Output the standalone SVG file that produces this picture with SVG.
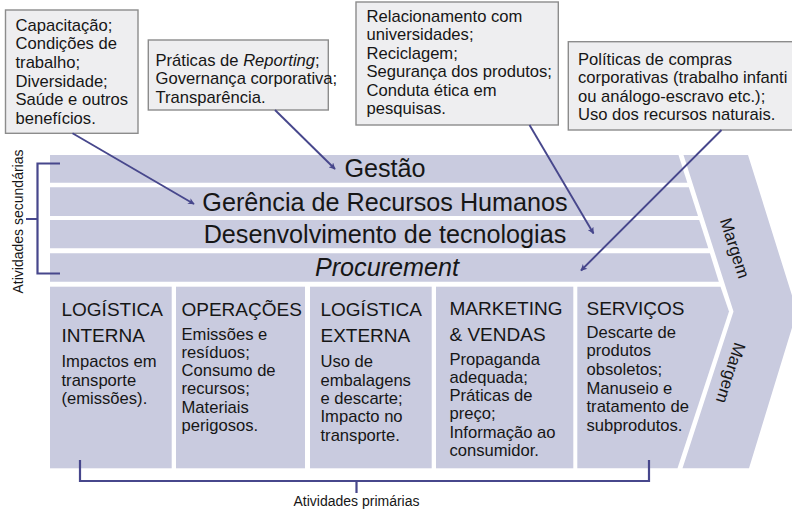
<svg xmlns="http://www.w3.org/2000/svg" width="792" height="511" viewBox="0 0 792 511">
  <defs>
    <style>
      .bar { fill: #c9cbdf; }
      .box { fill: #eeeef0; stroke: #8c8c8c; stroke-width: 1.4; }
      .t { font-family: "Liberation Sans", Arial, sans-serif; fill: #161616; }
      .co { font-size: 16.6px; }
      .bt { font-size: 25.2px; text-anchor: middle; }
      .hd { font-size: 19px; }
      .bd { font-size: 16.6px; }
      .sm { font-size: 14px; }
      .mg { font-size: 17px; text-anchor: middle; }
      .conn { stroke: #47478c; stroke-width: 1.9; fill: none; }
      .brk { stroke: #47478c; stroke-width: 2.2; fill: none; }
    </style>
    <marker id="arr" viewBox="0 0 10 10" refX="9" refY="5" markerWidth="8" markerHeight="6.5" markerUnits="userSpaceOnUse" orient="auto">
      <path d="M0,0 L10,5 L0,10 L2.5,5 Z" fill="#47478c"/>
    </marker>
  </defs>

  <g id="margem">
    <polygon class="bar" points="683.5,155 748,155 797,311.5 749,468.3 682.5,468.3 733.5,311.5"/>
    <text class="t mg" transform="translate(735,248) rotate(72.3)" y="6">Margem</text>
    <text class="t mg" transform="translate(731,373) rotate(107.7)" y="6">Margem</text>
  </g>

  <g id="gestao">
    <polygon class="bar" points="50,155 678.5,155 687.3,182.7 50,182.7"/>
    <text class="t bt" x="385" y="177">Gestão</text>
  </g>
  <g id="rh">
    <polygon class="bar" points="50,187.3 688.8,187.3 698,216 50,216"/>
    <text class="t bt" x="385" y="210.5">Gerência de Recursos Humanos</text>
  </g>
  <g id="tecnologia">
    <polygon class="bar" points="50,220 699.2,220 708.3,248.3 50,248.3"/>
    <text class="t bt" x="385" y="242.5">Desenvolvimento de tecnologias</text>
  </g>
  <g id="procurement">
    <polygon class="bar" points="50,253.3 709.9,253.3 718.8,281.7 50,281.7"/>
    <text class="t bt" x="387" y="275.5" font-style="italic">Procurement</text>
  </g>

  <g id="logistica-interna">
    <rect class="bar" x="50" y="286.7" width="121.7" height="181.6"/>
    <text class="t hd"><tspan x="61.5" y="315.5">LOGÍSTICA</tspan><tspan x="61.5" y="342">INTERNA</tspan></text>
    <text class="t bd"><tspan x="61.5" y="367.3">Impactos em</tspan><tspan x="61.5" y="385.6">transporte</tspan><tspan x="61.5" y="403.9">(emissões).</tspan></text>
  </g>
  <g id="operacoes">
    <rect class="bar" x="176" y="286.7" width="129" height="181.6"/>
    <text class="t hd" x="181.5" y="315.5">OPERAÇÕES</text>
    <text class="t bd"><tspan x="181.5" y="339.5">Emissões e</tspan><tspan x="181.5" y="357.8">resíduos;</tspan><tspan x="181.5" y="376.1">Consumo de</tspan><tspan x="181.5" y="394.4">recursos;</tspan><tspan x="181.5" y="412.7">Materiais</tspan><tspan x="181.5" y="431">perigosos.</tspan></text>
  </g>
  <g id="logistica-externa">
    <rect class="bar" x="310" y="286.7" width="121.7" height="181.6"/>
    <text class="t hd"><tspan x="320.5" y="315.5">LOGÍSTICA</tspan><tspan x="320.5" y="342">EXTERNA</tspan></text>
    <text class="t bd"><tspan x="320.5" y="367.3">Uso de</tspan><tspan x="320.5" y="385.6">embalagens</tspan><tspan x="320.5" y="403.9">e descarte;</tspan><tspan x="320.5" y="422.2">Impacto no</tspan><tspan x="320.5" y="440.5">transporte.</tspan></text>
  </g>
  <g id="marketing">
    <rect class="bar" x="436" y="286.7" width="137.3" height="181.6"/>
    <text class="t hd"><tspan x="449.5" y="314.5">MARKETING</tspan><tspan x="449.5" y="341">&amp; VENDAS</tspan></text>
    <text class="t bd"><tspan x="449.5" y="364.5">Propaganda</tspan><tspan x="449.5" y="382.8">adequada;</tspan><tspan x="449.5" y="401.1">Práticas de</tspan><tspan x="449.5" y="419.4">preço;</tspan><tspan x="449.5" y="437.7">Informação ao</tspan><tspan x="449.5" y="456">consumidor.</tspan></text>
  </g>
  <g id="servicos">
    <polygon class="bar" points="577.3,286.7 720.5,286.7 729,311.5 677.5,468.3 577.3,468.3"/>
    <text class="t hd" x="586.5" y="314.5">SERVIÇOS</text>
    <text class="t bd"><tspan x="586.5" y="337.5">Descarte de</tspan><tspan x="586.5" y="356.2">produtos</tspan><tspan x="586.5" y="374.9">obsoletos;</tspan><tspan x="586.5" y="393.6">Manuseio e</tspan><tspan x="586.5" y="412.3">tratamento de</tspan><tspan x="586.5" y="431">subprodutos.</tspan></text>
  </g>

  <g id="callout-rh">
    <rect class="box" x="5.5" y="10" width="132.5" height="123.3"/>
    <text class="t co"><tspan x="15.5" y="30.5">Capacitação;</tspan><tspan x="15.5" y="49.2">Condições de</tspan><tspan x="15.5" y="67.9">trabalho;</tspan><tspan x="15.5" y="86.6">Diversidade;</tspan><tspan x="15.5" y="105.3">Saúde e outros</tspan><tspan x="15.5" y="124">benefícios.</tspan></text>
  </g>
  <g id="callout-gestao">
    <rect class="box" x="148.3" y="40" width="180" height="70"/>
    <text class="t co"><tspan x="155.5" y="66">Práticas de <tspan font-style="italic">Reporting</tspan>;</tspan><tspan x="155.5" y="84.3">Governança corporativa;</tspan><tspan x="155.5" y="102.6">Transparência.</tspan></text>
  </g>
  <g id="callout-tecnologia">
    <rect class="box" x="356" y="2" width="202.3" height="123"/>
    <text class="t co"><tspan x="366.5" y="21.5">Relacionamento com</tspan><tspan x="366.5" y="40">universidades;</tspan><tspan x="366.5" y="58.5">Reciclagem;</tspan><tspan x="366.5" y="77">Segurança dos produtos;</tspan><tspan x="366.5" y="95.5">Conduta ética em</tspan><tspan x="366.5" y="114">pesquisas.</tspan></text>
  </g>
  <g id="callout-procurement">
    <rect class="box" x="568.3" y="41.7" width="240" height="88.3"/>
    <text class="t co"><tspan x="578" y="65">Políticas de compras</tspan><tspan x="578" y="83.3">corporativas (trabalho infanti</tspan><tspan x="578" y="101.6">ou análogo-escravo etc.);</tspan><tspan x="578" y="120">Uso dos recursos naturais.</tspan></text>
  </g>

  <g id="connectors">
    <line class="conn" x1="72.5" y1="133.3" x2="194" y2="204" marker-end="url(#arr)"/>
    <line class="conn" x1="275" y1="110" x2="335" y2="169" marker-end="url(#arr)"/>
    <line class="conn" x1="529.5" y1="125" x2="593.5" y2="233.5" marker-end="url(#arr)"/>
    <line class="conn" x1="721.5" y1="130" x2="581" y2="270.5" marker-end="url(#arr)"/>
  </g>

  <g id="brackets">
    <path class="brk" d="M60,163.5 H37.5 V273.5 H60 M26,219 H37.5"/>
    <path class="brk" d="M80,460 V481 H649 V460 M356.5,481 V493"/>
    <text class="t sm" transform="translate(22.5,221.5) rotate(-90)" text-anchor="middle">Atividades secundárias</text>
    <text class="t sm" x="356.5" y="506" text-anchor="middle">Atividades primárias</text>
  </g>
</svg>
